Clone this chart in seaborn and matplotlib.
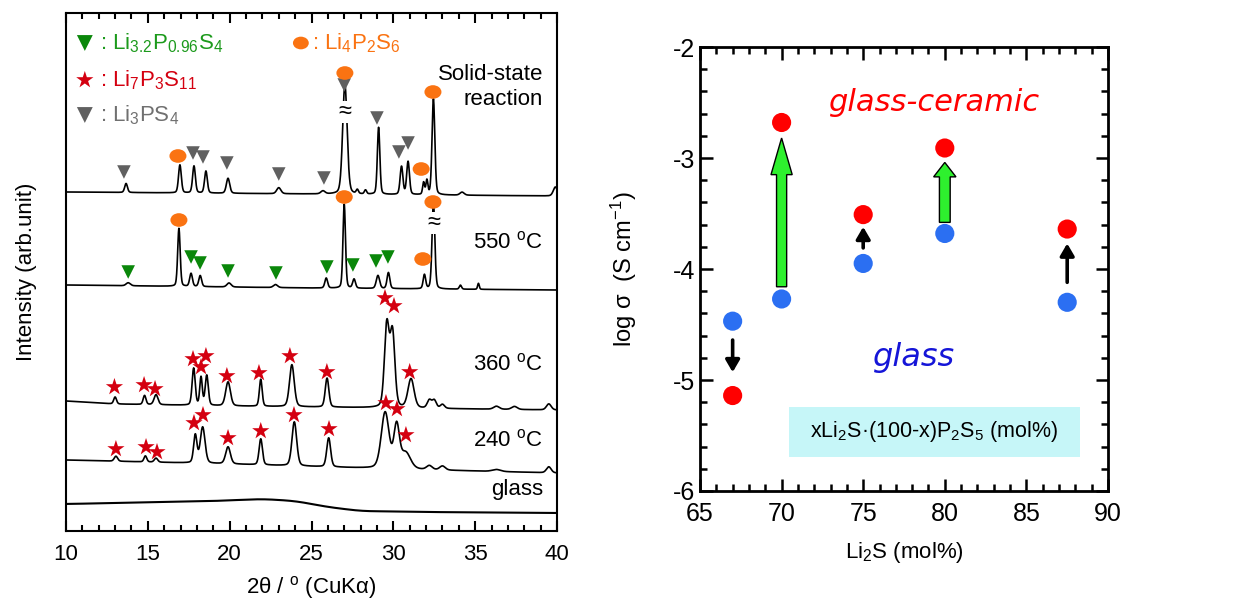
import numpy as np
import pandas as pd
import matplotlib
matplotlib.use("Agg")
import matplotlib.pyplot as plt
import seaborn as sns
from matplotlib.path import Path
from matplotlib.patches import Rectangle

# ---------------- data: XRD patterns (2theta in deg, intensity in arb. units) ----------------
ssr_base_x = [10, 25, 40]
ssr_base_y = [339, 337, 335]
ssr_pos = [13.67, 16.96, 17.82, 18.55, 19.9, 23.0, 25.7, 27.04, 27.8, 28.3, 29.1, 30.5, 30.9, 31.85, 32.05, 32.45, 34.2, 39.9]
ssr_hgt = [9, 28, 27, 22, 15, 6, 3, 110, 4, 4, 67, 28, 33, 12, 14, 96, 3, 9]
ssr_wid = [0.1, 0.1, 0.1, 0.1, 0.12, 0.15, 0.15, 0.16, 0.08, 0.08, 0.09, 0.1, 0.1, 0.07, 0.07, 0.1, 0.15, 0.15]

t550_base_x = [10, 25, 40]
t550_base_y = [246, 243, 241]
t550_pos = [13.8, 16.9, 17.64, 18.2, 19.96, 22.8, 25.9, 27.0, 27.6, 29.06, 29.7, 31.9, 32.45, 34.1, 35.2]
t550_hgt = [3, 58, 13, 11, 4, 3, 10, 84, 9, 13, 16, 14, 87, 4, 6]
t550_wid = [0.15, 0.09, 0.1, 0.1, 0.15, 0.15, 0.1, 0.09, 0.1, 0.12, 0.1, 0.09, 0.1, 0.08, 0.06]

t360_base_x = [10, 13, 20, 30, 40]
t360_base_y = [130, 127, 125, 123, 121]
t360_pos = [13.0, 14.8, 15.5, 17.8, 18.25, 18.6, 19.9, 21.9, 23.8, 25.95, 29.6, 29.95, 31.08, 32.2, 32.5, 33.0, 36.3, 37.4, 39.5]
t360_hgt = [7, 9, 10, 37, 28, 30, 24, 27, 42, 29, 82, 74, 29, 8, 8, 4, 3, 3, 6]
t360_wid = [0.1, 0.1, 0.14, 0.11, 0.09, 0.11, 0.17, 0.1, 0.17, 0.13, 0.17, 0.17, 0.22, 0.15, 0.15, 0.15, 0.2, 0.2, 0.17]

t240_base_x = [10, 20, 30, 40]
t240_base_y = [71, 67, 62, 58]
t240_pos = [13.05, 14.85, 15.5, 17.9, 18.35, 19.9, 21.9, 23.95, 26.05, 29.5, 30.2, 30.75, 32.2, 33.0, 36.3, 39.5]
t240_hgt = [5, 6, 4, 28, 36, 17, 26, 44, 29, 56, 42, 16, 4, 4, 2, 6]
t240_wid = [0.12, 0.1, 0.12, 0.12, 0.17, 0.17, 0.12, 0.17, 0.14, 0.28, 0.2, 0.35, 0.2, 0.2, 0.3, 0.17]

glass_x = [10, 13, 16, 19, 22, 24, 26, 28, 32, 40]
glass_y = [27, 28, 29, 30, 32, 30, 24, 20, 19, 18]

# phase markers (2theta, intensity)
li3ps4_x = [13.54, 17.76, 18.37, 19.83, 23.0, 25.76, 27.0, 29.0, 30.34, 30.9]
li3ps4_y = [359, 378, 374, 368, 357, 353, 446, 413, 379, 388]
li4p2s6_x = [16.84, 27.04, 31.7, 32.42, 16.9, 27.0, 31.8, 32.42]
li4p2s6_y = [375, 458, 362, 439, 311, 334, 272, 329]
li32_x = [13.8, 17.64, 18.19, 19.9, 22.83, 25.94, 27.53, 28.94, 29.67]
li32_y = [259, 274, 268, 260, 258, 264, 266, 270, 274]
li7_x = [12.96, 14.77, 15.44, 17.76, 18.25, 18.55, 19.83, 21.79, 23.68, 25.94, 29.49, 30.04, 31.0,
         13.05, 14.89, 15.56, 17.82, 18.37, 19.9, 21.9, 23.93, 26.07, 29.55, 30.22, 30.77]
li7_y = [144, 146, 142, 172, 164, 175, 155, 158, 175, 159, 233, 225, 159,
         82, 84, 79, 108, 116, 93, 100, 116, 102, 128, 122, 96]

pattern_labels = ["Solid-state\nreaction", "550 $^{\\mathrm{o}}$C", "360 $^{\\mathrm{o}}$C", "240 $^{\\mathrm{o}}$C", "glass"]
pattern_label_y = [444, 289, 167, 91, 41]

# ---------------- data: conductivity ----------------
li2s = [67, 70, 75, 80, 87.5]
log_sigma_glass = [-4.47, -4.27, -3.95, -3.68, -4.30]
log_sigma_gc = [-5.14, -2.68, -3.51, -2.91, -3.64]
arrow_tail = [-4.64, -4.16, -3.81, -3.58, -4.12]
arrow_tip = [-4.93, -2.82, -3.62, -3.04, -3.77]

# ---------------- style ----------------
sns.set_theme(style="ticks")
plt.rcParams["font.family"] = ["Liberation Sans", "DejaVu Sans"]
plt.rcParams["mathtext.fontset"] = "custom"
plt.rcParams["mathtext.rm"] = "Liberation Sans"
plt.rcParams["mathtext.it"] = "Liberation Sans:italic"
plt.rcParams["mathtext.bf"] = "Liberation Sans:bold"
for key in ["text.color", "axes.labelcolor", "xtick.color", "ytick.color",
            "xtick.labelcolor", "ytick.labelcolor"]:
    plt.rcParams[key] = "black"

fig = plt.figure(figsize=(12.57, 6.03), dpi=100)
axL = fig.add_axes([66 / 1257, 1 - 531 / 603, (557 - 66) / 1257, (531 - 13) / 603])
axR = fig.add_axes([700 / 1257, 1 - 491 / 603, (1108 - 700) / 1257, (491 - 47) / 603])

# ---------------- left panel ----------------
grid = np.linspace(10, 40, 3001)


def profile(bx, by, pos, hgt, wid):
    y = np.interp(grid, bx, by).astype(float)
    for c, h, w in zip(pos, hgt, wid):
        g = np.exp(-np.log(2) * ((grid - c) / w) ** 2)
        l = 1.0 / (1 + ((grid - c) / w) ** 2)
        y += h * (0.75 * g + 0.25 * l)
    return y


curves = [
    profile(ssr_base_x, ssr_base_y, ssr_pos, ssr_hgt, ssr_wid),
    profile(t550_base_x, t550_base_y, t550_pos, t550_hgt, t550_wid),
    profile(t360_base_x, t360_base_y, t360_pos, t360_hgt, t360_wid),
    profile(t240_base_x, t240_base_y, t240_pos, t240_hgt, t240_wid),
]
gl = np.interp(grid, glass_x, glass_y)
kern = np.ones(151) / 151
gl = np.convolve(np.pad(gl, 75, mode="edge"), kern, mode="valid")
curves.append(gl)

for i, c in enumerate(curves):
    df = pd.DataFrame({"tt": grid, "I": c})
    sns.lineplot(data=df, x="tt", y="I", ax=axL, color="black", lw=1.5 if i == 4 else 1.2,
                 estimator=None, sort=False)

ellipse_v = Path.unit_circle().vertices * np.array([1.0, 0.8])
ellipse = Path(ellipse_v, Path.unit_circle().codes)

sns.scatterplot(x=li3ps4_x, y=li3ps4_y, ax=axL, marker="v", s=95, color="#606060", edgecolor="none", zorder=4)
sns.scatterplot(x=li32_x, y=li32_y, ax=axL, marker="v", s=95, color="#0a870a", edgecolor="none", zorder=4)
sns.scatterplot(x=li7_x, y=li7_y, ax=axL, marker="*", s=170, color="#d40010", edgecolor="none", zorder=4)
sns.scatterplot(x=li4p2s6_x, y=li4p2s6_y, ax=axL, marker=ellipse, s=150, color="#fa7312", edgecolor="none", zorder=5)

# break marks
for bx, by in [(27.04, 419), (32.45, 308)]:
    axL.text(bx, by, "≈", ha="center", va="center", fontsize=17, color="black",
             bbox=dict(boxstyle="square,pad=0.0", fc="white", ec="none"), zorder=3)

# phase legend
legend_items = [
    (11.15, 488, "v", "#0a870a", r": Li$_{3.2}$P$_{0.96}$S$_4$", 12.1, "#1c9a1c"),
    (11.15, 451, "*", "#d40010", r": Li$_7$P$_3$S$_{11}$", 12.1, "#d40010"),
    (11.15, 416, "v", "#606060", r": Li$_3$PS$_4$", 12.1, "#707070"),
    (24.35, 488, ellipse, "#fa7312", r": Li$_4$P$_2$S$_6$", 25.0, "#fa7312"),
]
for mx, my, mk, mc, txt, tx, tc in legend_items:
    axL.scatter([mx], [my], marker=mk, s=170 if mk == "*" else 130, color=mc, edgecolor="none", zorder=5)
    axL.text(tx, my, txt, fontsize=16, color=tc, ha="left", va="center")

for lab, ly in zip(pattern_labels, pattern_label_y):
    axL.text(39.15, ly, lab, ha="right", va="center", fontsize=16, color="black", linespacing=1.25)

axL.set_xlim(10, 40)
axL.set_ylim(0, 518)
axL.set_yticks([])
axL.set_xticks(np.arange(10, 41, 5))
axL.set_xticks(np.arange(10, 41, 1), minor=True)
axL.tick_params(axis="x", which="both", direction="in", top=True, bottom=True, width=1.5, labelsize=16, pad=9,
                colors="black")
axL.tick_params(axis="x", which="major", length=7)
axL.tick_params(axis="x", which="minor", length=4)
axL.set_xlabel("2θ / $^{\\mathrm{o}}$ (CuKα)", fontsize=16, labelpad=7)
axL.set_ylabel("Intensity (arb.unit)", fontsize=16, labelpad=21)
for s in axL.spines.values():
    s.set_linewidth(1.5)
    s.set_color("black")

# ---------------- right panel ----------------
sns.scatterplot(x=li2s, y=log_sigma_glass, ax=axR, s=190, color="#2b6ff2", edgecolor="none", zorder=5)
sns.scatterplot(x=li2s, y=log_sigma_gc, ax=axR, s=190, color="#ff0000", edgecolor="none", zorder=5)

big = {70: (0.62, 1.3, 0.33), 80: (0.66, 1.37, 0.13)}
for xv, t0, t1 in zip(li2s, arrow_tail, arrow_tip):
    if xv in big:
        w, hw, hl = big[xv]
        axR.arrow(xv, t0, 0, t1 - t0, width=w, head_width=hw, head_length=hl,
                  length_includes_head=True, fc="#2ef02e", ec="black", lw=1.0, zorder=4)
    else:
        axR.annotate("", xy=(xv, t1), xytext=(xv, t0),
                     arrowprops=dict(arrowstyle="-|>,head_width=0.35,head_length=0.6", color="black", lw=2.6,
                                     shrinkA=0, shrinkB=0), zorder=4)

axR.text(79.3, -2.50, "glass-ceramic", color="#ff0000", fontsize=22, style="italic",
         ha="center", va="center", family=["DejaVu Sans"])
axR.text(78.1, -4.80, "glass", color="#1515d8", fontsize=23, style="italic",
         ha="center", va="center", family=["DejaVu Sans"])
axR.add_patch(Rectangle((70.45, -5.69), 88.3 - 70.45, 0.45, facecolor="#c6f6f8", edgecolor="none", zorder=2))
axR.text(79.35, -5.465, "xLi$_2$S·(100-x)P$_2$S$_5$ (mol%)", fontsize=15.5, ha="center", va="center", zorder=3)

axR.set_xlim(65, 90)
axR.set_ylim(-6, -2)
axR.set_xticks(np.arange(65, 91, 5))
axR.set_xticks(np.arange(65, 91, 1), minor=True)
axR.set_yticks(np.arange(-6, -1.9, 1))
axR.set_yticks(np.arange(-6, -1.9, 0.2), minor=True)
axR.set_yticklabels([str(v) for v in range(-6, -1)])
axR.tick_params(which="both", direction="in", top=True, right=True, width=1.8, labelsize=18, colors="black")
axR.tick_params(which="major", length=9)
axR.tick_params(which="minor", length=5)
axR.tick_params(axis="x", pad=8)
axR.set_xlabel("Li$_2$S (mol%)", fontsize=16, labelpad=10)
axR.set_ylabel("log σ  (S cm$^{-1}$)", fontsize=17, labelpad=24)
for s in axR.spines.values():
    s.set_linewidth(2)
    s.set_color("black")

fig.savefig("out.png", dpi=100)
